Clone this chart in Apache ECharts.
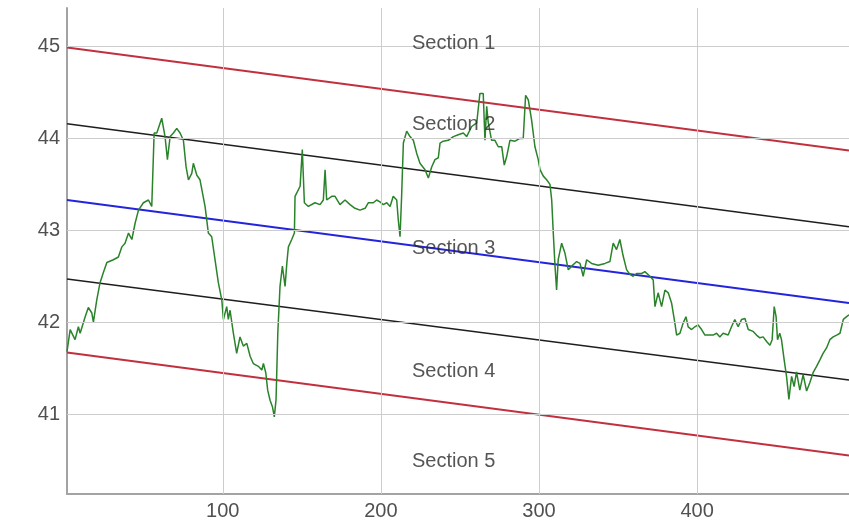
<!DOCTYPE html>
<html>
<head>
<meta charset="utf-8">
<script src="https://cdn.jsdelivr.net/npm/echarts@6/dist/echarts.min.js"></script>
<style>
  html, body { margin: 0; padding: 0; background: #fff; }
  #chart { width: 849px; height: 527px; }
</style>
</head>
<body>
<div id="chart"></div>
<script>
// Sample positions and price values of the traced series
const sampleX = [1.5,3.5,6.6,8.7,9.8,13,15,17.2,18.2,20.3,22.4,24.5,26.7,30.8,34,36.2,38.2,40.4,42.5,44.6,46.7,49.8,53,55.1,56.6,58.3,61.4,63.5,65,66.7,68.8,70.9,73,75.1,76.8,78.3,80.4,81.4,83.6,85.6,88.8,90.9,93,95.1,97.2,99.4,100.4,102.5,103.5,104.6,106.7,108.8,110.9,113,115.2,117.3,119.3,122.5,124.7,125.7,127.2,128.4,129.9,131.4,132.6,133.7,134.8,136.2,137.7,139.4,140.5,141.5,143.6,145.3,145.7,148.9,150.3,151.6,154.1,158.3,161.5,163.6,164.7,165.7,168.9,171,174.1,177.3,180.5,183.6,186.8,190,192,195.2,197.3,199.4,201.5,203.7,205.8,207.8,210,211,212.1,213.1,214.2,216.3,218.4,220.5,222.6,224.7,227.9,230,232.1,234.2,236.3,237.4,239.4,242.6,245.8,248.9,252.1,254.2,257.4,260.6,262.6,264.7,265.8,266.9,267.9,270,272.1,274.2,276.4,278,279.5,281.6,284.8,287.9,290,291.5,293.2,295.3,297.4,299.5,300.6,302.7,304.8,306.9,308,309,310.1,311.1,312.1,314.3,316.4,318.5,320.6,323.8,325.9,327.9,330.1,333.2,337.4,341.7,344.8,346.9,349,351.1,353.2,355.4,357.5,359.5,361.7,364.9,366.9,370.1,372.2,373.3,375.3,377.5,379.6,381.7,383.8,385.9,387,389.1,391.1,392.9,394.3,396.5,398.5,400.6,402.8,404.9,407,410.1,412.3,414.3,416.4,419.6,421.7,423.8,425.9,428.1,430.2,432.3,435.4,437.5,439.6,441.7,443.9,446,447.4,448.7,449.9,450.8,452.2,453.3,455,456.5,458,459.7,461.3,462.8,464.9,467,469.2,471.2,473.3,475.5,477.6,479.6,481.8,483.9,486,488.2,490.3,492.4,494.5,496];
const price = [41.68,41.92,41.81,41.95,41.88,42.06,42.16,42.1,42.0,42.24,42.43,42.54,42.65,42.68,42.71,42.82,42.86,42.97,42.9,43.08,43.22,43.3,43.33,43.26,44.06,44.06,44.22,44.02,43.77,44.02,44.06,44.11,44.06,43.98,43.69,43.55,43.62,43.73,43.6,43.55,43.26,42.97,42.93,42.68,42.43,42.24,42.03,42.17,42.03,42.13,41.88,41.66,41.84,41.74,41.77,41.63,41.55,41.52,41.48,41.55,41.45,41.26,41.15,41.08,40.97,41.16,41.88,42.39,42.61,42.39,42.64,42.82,42.9,42.97,43.37,43.48,43.88,43.3,43.26,43.3,43.28,43.33,43.66,43.33,43.37,43.37,43.28,43.33,43.28,43.24,43.22,43.24,43.3,43.3,43.33,43.31,43.28,43.3,43.26,43.37,43.33,43.11,42.93,43.37,43.95,44.08,44.02,43.98,43.84,43.73,43.66,43.57,43.69,43.77,43.79,43.95,43.97,43.98,44.02,44.04,44.06,44.02,44.13,44.17,44.49,44.49,43.98,44.35,44.17,43.98,43.98,43.91,43.91,43.71,43.8,43.98,43.97,44.0,44.0,44.47,44.42,44.2,43.91,43.77,43.66,43.59,43.55,43.5,43.33,42.97,42.61,42.35,42.68,42.86,42.75,42.57,42.61,42.66,42.64,42.5,42.68,42.64,42.62,42.64,42.66,42.86,42.79,42.9,42.72,42.57,42.52,42.5,42.53,42.53,42.55,42.5,42.46,42.17,42.32,42.17,42.35,42.32,42.21,41.99,41.86,41.88,41.99,42.06,41.95,41.92,41.95,41.97,41.92,41.86,41.86,41.86,41.88,41.84,41.88,41.86,41.95,42.03,41.95,42.03,42.04,41.92,41.9,41.86,41.83,41.84,41.79,41.75,41.81,42.17,42.06,41.81,41.88,41.81,41.59,41.41,41.16,41.41,41.3,41.46,41.26,41.43,41.25,41.34,41.45,41.52,41.59,41.66,41.72,41.81,41.84,41.86,41.88,42.03,42.06,42.08];

// Channel lines: value at the left and right ends of the x range
const channelX = [1.5, 496];
const channelNames = ['Upper bound', 'Upper band', 'Centre', 'Lower band', 'Lower bound'];
const channelStart = [44.99, 44.16, 43.33, 42.47, 41.67];
const channelEnd = [43.87, 43.04, 42.21, 41.37, 40.55];
const channelColors = ['#c1303f', '#1e1e1e', '#2424dc', '#1e1e1e', '#c1303f'];
const channelWidths = [2, 1.5, 2, 1.5, 2];

// Section captions and where they sit
const sectionNames = ['Section 1', 'Section 2', 'Section 3', 'Section 4', 'Section 5'];
const sectionX = 246;
const sectionY = [45.03, 44.15, 42.8, 41.46, 40.48];

// Axis ticks
const xTicks = [100, 200, 300, 400];
const yTicks = [41, 42, 43, 44, 45];

const chart = echarts.init(document.getElementById('chart'), null, { renderer: 'canvas' });

const gridColor = '#cdcdcd';
const labelFont = "'Liberation Sans', Arial, sans-serif";

const series = [];

// Grid lines drawn at tick values
series.push({
  name: 'gridlines',
  type: 'line',
  data: [],
  silent: true,
  z: 1,
  markLine: {
    silent: true,
    symbol: ['none', 'none'],
    label: { show: false },
    animation: false,
    lineStyle: { color: gridColor, width: 1, type: 'solid' },
    data: xTicks.map(v => ({ xAxis: v })).concat(yTicks.map(v => ({ yAxis: v })))
  }
});

channelNames.forEach((name, i) => {
  series.push({
    name: name,
    type: 'line',
    data: [[channelX[0], channelStart[i]], [channelX[1], channelEnd[i]]],
    showSymbol: false,
    silent: true,
    z: 3,
    lineStyle: { color: channelColors[i], width: channelWidths[i] }
  });
});

series.push({
  name: 'Price',
  type: 'line',
  data: sampleX.map((x, i) => [x, price[i]]),
  showSymbol: false,
  z: 4,
  lineStyle: { color: '#2a832a', width: 1.5 }
});

series.push({
  name: 'Sections',
  type: 'scatter',
  symbolSize: 0,
  z: 6,
  silent: true,
  data: sectionNames.map((n, i) => ({ name: n, value: [sectionX, sectionY[i]] })),
  label: {
    show: true,
    position: 'inside',
    formatter: p => p.name,
    color: '#2a2a2a',
    fontSize: 20,
    fontFamily: labelFont
  }
});

chart.setOption({
  animation: false,
  backgroundColor: '#fff',
  grid: { left: 67, right: 0, top: 8, bottom: 33, containLabel: false },
  xAxis: {
    type: 'value',
    min: 1.5,
    max: 496,
    splitLine: { show: false },
    axisTick: { show: false },
    axisLine: { show: true, lineStyle: { color: '#a3a3a3', width: 2 } },
    axisLabel: {
      customValues: xTicks,
      color: '#505050',
      fontSize: 20,
      fontFamily: labelFont,
      margin: 7
    }
  },
  yAxis: {
    type: 'value',
    min: 40.13,
    max: 45.42,
    splitLine: { show: false },
    axisTick: { show: false },
    axisLine: { show: true, lineStyle: { color: '#a3a3a3', width: 2 } },
    axisLabel: {
      customValues: yTicks,
      color: '#505050',
      fontSize: 20,
      fontFamily: labelFont,
      margin: 7
    }
  },
  series: series
});
</script>
</body>
</html>
